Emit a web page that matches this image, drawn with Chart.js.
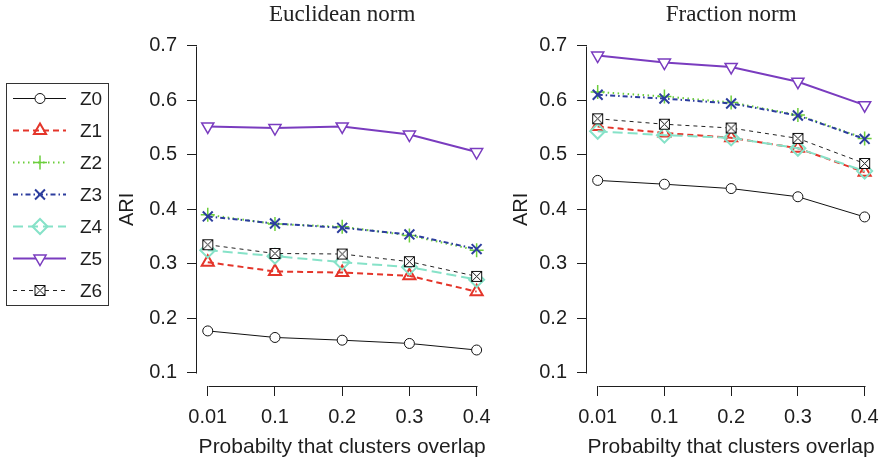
<!DOCTYPE html>
<html>
<head>
<meta charset="utf-8">
<script src="https://cdn.jsdelivr.net/npm/chart.js@4.4.1/dist/chart.umd.min.js"></script>
<style>
  html, body { margin: 0; padding: 0; background: #fff; }
  #marco { position: relative; width: 888px; height: 460px; overflow: hidden; }
  #graficaEuclid { position: absolute; left: 0; top: 0; }
  #graficaFraccion { position: absolute; left: 500px; top: 0; }
</style>
</head>
<body>
<div id="marco">
  <canvas id="graficaEuclid" width="500" height="460"></canvas>
  <canvas id="graficaFraccion" width="388" height="460"></canvas>
</div>
<script>
// probabilidad de solapamiento (eje x) y marcas del eje y
var categorias = ['0.01', '0.1', '0.2', '0.3', '0.4'];
var marcasY = [0.1, 0.2, 0.3, 0.4, 0.5, 0.6, 0.7];
var nombres = ['Z0', 'Z1', 'Z2', 'Z3', 'Z4', 'Z5', 'Z6'];

// ARI con norma euclidea
var euclidZ0 = [0.177, 0.165, 0.160, 0.154, 0.142];
var euclidZ1 = [0.303, 0.286, 0.284, 0.278, 0.249];
var euclidZ2 = [0.390, 0.373, 0.368, 0.352, 0.325];
var euclidZ3 = [0.387, 0.374, 0.366, 0.354, 0.327];
var euclidZ4 = [0.325, 0.314, 0.303, 0.294, 0.271];
var euclidZ5 = [0.552, 0.549, 0.552, 0.537, 0.505];
var euclidZ6 = [0.335, 0.319, 0.318, 0.304, 0.277];

// ARI con norma de fraccion
var fraccZ0 = [0.453, 0.446, 0.438, 0.423, 0.386];
var fraccZ1 = [0.552, 0.540, 0.531, 0.512, 0.468];
var fraccZ2 = [0.615, 0.607, 0.596, 0.573, 0.530];
var fraccZ3 = [0.610, 0.603, 0.594, 0.572, 0.529];
var fraccZ4 = [0.543, 0.536, 0.531, 0.512, 0.470];
var fraccZ5 = [0.682, 0.669, 0.661, 0.634, 0.591];
var fraccZ6 = [0.566, 0.556, 0.549, 0.530, 0.484];

var euclid = [euclidZ0, euclidZ1, euclidZ2, euclidZ3, euclidZ4, euclidZ5, euclidZ6];
var fracc = [fraccZ0, fraccZ1, fraccZ2, fraccZ3, fraccZ4, fraccZ5, fraccZ6];

// cuadrado con aspa para Z6
var cajaX = document.createElement('canvas');
cajaX.width = 13;
cajaX.height = 13;
(function () {
    var c = cajaX.getContext('2d');
    c.fillStyle = '#fff';
    c.fillRect(1.5, 1.5, 10, 10);
    c.strokeStyle = '#111';
    c.lineWidth = 1;
    c.strokeRect(1.5, 1.5, 10, 10);
    c.beginPath();
    c.moveTo(1.5, 1.5); c.lineTo(11.5, 11.5);
    c.moveTo(11.5, 1.5); c.lineTo(1.5, 11.5);
    c.stroke();
})();

var estilos = [
    { color: '#111111', ancho: 1, guion: [], punto: 'circle', radio: 5, giro: 0, relleno: '#fff', borde: 1 },
    { color: '#e4352a', ancho: 2, guion: [6, 4], punto: 'triangle', radio: 7, giro: 0, relleno: 'transparent', borde: 2 },
    { color: '#6cce3c', ancho: 2, guion: [1.5, 3.5], punto: 'cross', radio: 7, giro: 0, relleno: 'transparent', borde: 1.5 },
    { color: '#2c3d9e', ancho: 2, guion: [5, 3, 1.5, 3], punto: 'crossRot', radio: 7, giro: 0, relleno: 'transparent', borde: 2 },
    { color: '#86e2c8', ancho: 2, guion: [10, 5], punto: 'rectRot', radio: 7.5, giro: 0, relleno: 'transparent', borde: 2 },
    { color: '#7a3cbf', ancho: 2, guion: [], punto: 'triangle', radio: 7, giro: 180, relleno: '#fff', borde: 1.5 },
    { color: '#222222', ancho: 1, guion: [4, 4], punto: cajaX, radio: 6, giro: 0, relleno: '#fff', borde: 1 }
];

function armarDatasets(valores) {
    return nombres.map(function (nombre, i) {
        var e = estilos[i];
        return {
            label: nombre,
            data: valores[i].map(function (v, j) { return { x: j, y: v }; }),
            borderColor: e.color,
            borderWidth: e.ancho,
            borderDash: e.guion,
            pointStyle: e.punto,
            pointRadius: e.radio,
            pointRotation: e.giro,
            pointBorderColor: e.color,
            pointBackgroundColor: e.relleno,
            pointBorderWidth: e.borde,
            tension: 0,
            fill: false,
            order: nombres.length - i
        };
    });
}

var fuenteMarcas = { family: 'Liberation Sans', size: 20 };
var fuenteTitulo = { family: 'Liberation Sans', size: 21 };
var tinta = '#1e1e1e';

// ejes estilo R: la linea solo cubre el rango de marcas
var ejesR = {
    id: 'ejesR',
    afterDraw: function (chart) {
        var ctx = chart.ctx;
        var xs = chart.scales.x, ys = chart.scales.y;
        var a = chart.chartArea;
        ctx.save();
        ctx.strokeStyle = tinta;
        ctx.lineWidth = 1;
        ctx.setLineDash([]);
        var xEje = Math.round(a.left) - 0.5;
        ctx.beginPath();
        ctx.moveTo(xEje, Math.round(ys.getPixelForValue(marcasY[0])) + 0.5);
        ctx.lineTo(xEje, Math.round(ys.getPixelForValue(marcasY[marcasY.length - 1])) + 0.5);
        var yEje = Math.round(a.bottom) + 0.5;
        ctx.moveTo(Math.round(xs.getPixelForValue(0)) + 0.5, yEje);
        ctx.lineTo(Math.round(xs.getPixelForValue(categorias.length - 1)) + 0.5, yEje);
        ctx.stroke();
        ctx.restore();
    }
};

// leyenda con recuadro a la izquierda
var leyenda = {
    id: 'leyenda',
    afterDraw: function (chart) {
        var ctx = chart.ctx;
        ctx.save();
        ctx.strokeStyle = '#333';
        ctx.lineWidth = 1;
        ctx.setLineDash([]);
        ctx.strokeRect(6.5, 83.5, 102, 222);
        chart.data.datasets.forEach(function (ds, i) {
            var y = 98.5 + i * 32;
            ctx.strokeStyle = ds.borderColor;
            ctx.lineWidth = ds.borderWidth;
            ctx.setLineDash(ds.borderDash);
            ctx.beginPath();
            ctx.moveTo(13, y);
            ctx.lineTo(66, y);
            ctx.stroke();
            ctx.setLineDash([]);
            ctx.strokeStyle = ds.pointBorderColor;
            ctx.fillStyle = ds.pointBackgroundColor;
            ctx.lineWidth = ds.pointBorderWidth;
            Chart.helpers.drawPoint(ctx, {
                pointStyle: ds.pointStyle,
                radius: ds.pointRadius,
                rotation: ds.pointRotation,
                borderWidth: ds.pointBorderWidth
            }, 40, y);
            ctx.fillStyle = tinta;
            ctx.font = '19px "Liberation Sans"';
            ctx.textBaseline = 'middle';
            ctx.textAlign = 'left';
            ctx.fillText(ds.label, 80, y + 1);
        });
        ctx.restore();
    }
};

function crearGrafica(id, titulo, valores, relleno, anchoY, conLeyenda) {
    var ctx = document.getElementById(id).getContext('2d');
    return new Chart(ctx, {
        type: 'line',
        data: { datasets: armarDatasets(valores) },
        options: {
            responsive: false,
            animation: false,
            devicePixelRatio: 1,
            layout: { padding: relleno },
            plugins: {
                legend: { display: false },
                tooltip: { enabled: false },
                title: {
                    display: true,
                    text: titulo,
                    fullSize: false,
                    color: '#222',
                    font: { family: 'Liberation Serif', size: 23, weight: 'normal' },
                    padding: { top: 1, bottom: 4 }
                }
            },
            scales: {
                x: {
                    type: 'linear',
                    min: -0.16,
                    max: 4.16,
                    afterBuildTicks: function (axis) {
                        axis.ticks = categorias.map(function (c, i) { return { value: i }; });
                    },
                    afterFit: function (axis) { axis.height = 74; },
                    ticks: {
                        color: tinta,
                        font: fuenteMarcas,
                        padding: 9,
                        maxRotation: 0,
                        callback: function (v) { return categorias[v]; }
                    },
                    grid: { drawOnChartArea: false, drawTicks: true, tickLength: 10, color: tinta, lineWidth: 1 },
                    border: { display: false },
                    title: {
                        display: true,
                        text: 'Probabilty that clusters overlap',
                        color: tinta,
                        font: fuenteTitulo,
                        padding: { top: 0, bottom: 0 }
                    }
                },
                y: {
                    type: 'linear',
                    min: 0.076,
                    max: 0.724,
                    afterBuildTicks: function (axis) {
                        axis.ticks = marcasY.map(function (v) { return { value: v }; });
                    },
                    afterFit: function (axis) { axis.width = anchoY; },
                    ticks: {
                        color: tinta,
                        font: fuenteMarcas,
                        padding: 10,
                        callback: function (v) { return v.toFixed(1); }
                    },
                    grid: { drawOnChartArea: false, drawTicks: true, tickLength: 10, color: tinta, lineWidth: 1 },
                    border: { display: false },
                    title: {
                        display: true,
                        text: 'ARI',
                        color: tinta,
                        font: { family: 'Liberation Sans', size: 20 },
                        padding: 0
                    }
                }
            }
        },
        plugins: conLeyenda ? [ejesR, leyenda] : [ejesR]
    });
}

crearGrafica('graficaEuclid', 'Euclidean norm', euclid, { left: 115, right: 9, top: 0, bottom: 0 }, 82, true);
crearGrafica('graficaFraccion', 'Fraction norm', fracc, { left: 9, right: 6, top: 0, bottom: 0 }, 78, false);
</script>
</body>
</html>
